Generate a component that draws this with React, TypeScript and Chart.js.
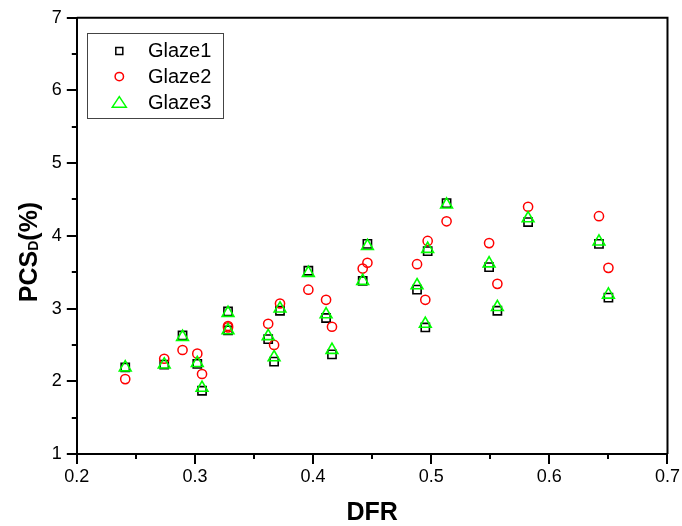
import React, { useEffect, useRef } from "react";
import { Chart, registerables } from "chart.js";

Chart.register(...registerables);

// ---- data ----
const dfr = [
  0.241, 0.274, 0.2895, 0.302, 0.306, 0.328, 0.328, 0.362, 0.367, 0.372, 0.396, 0.411,
  0.416, 0.442, 0.446, 0.488, 0.495, 0.497, 0.513, 0.549, 0.556, 0.582, 0.642, 0.65,
];
const glaze1 = [
  2.19, 2.23, 2.63, 2.24, 1.87, 2.96, 2.7, 2.58, 2.27, 2.97, 3.52, 2.87,
  2.37, 3.38, 3.89, 3.26, 2.74, 3.79, 4.45, 3.57, 2.97, 4.19, 3.89, 3.15,
];
const glaze2 = [
  2.03, 2.31, 2.43, 2.38, 2.1, 2.76, 2.74, 2.79, 2.5, 3.07, 3.26, 3.12,
  2.75, 3.55, 3.63, 3.61, 3.12, 3.93, 4.2, 3.9, 3.34, 4.4, 4.27, 3.56,
];
const glaze3 = [
  2.19, 2.23, 2.61, 2.25, 1.91, 2.94, 2.7, 2.62, 2.33, 3.0, 3.49, 2.92,
  2.43, 3.38, 3.86, 3.32, 2.79, 3.82, 4.43, 3.62, 3.02, 4.24, 3.92, 3.19,
];
const seriesNames = ["Glaze1", "Glaze2", "Glaze3"];
const xMinorTicks = [0.25, 0.35, 0.45, 0.55, 0.65];
const yMinorTicks = [1.5, 2.5, 3.5, 4.5, 5.5, 6.5];
const xTitle = "DFR";
const yTitleMain = "PCS";
const yTitleSub = "D";
const yTitleTail = "(%)";

const FONT = "'Liberation Sans', Arial, Helvetica, sans-serif";

const toPoints = (ys: number[]) => ys.map((v, i) => ({ x: dfr[i], y: v }));

const framePlugin = {
  id: "framePlugin",
  afterDraw(chart: any) {
    const { ctx, chartArea: a, scales } = chart;
    const xs = scales.x;
    const ys = scales.y;
    ctx.save();
    ctx.strokeStyle = "#000";
    ctx.lineWidth = 2;
    // top and right spines
    ctx.beginPath();
    ctx.moveTo(a.left, a.top);
    ctx.lineTo(a.right, a.top);
    ctx.lineTo(a.right, a.bottom);
    ctx.stroke();
    // minor ticks
    ctx.beginPath();
    for (const v of xMinorTicks) {
      const px = Math.round(xs.getPixelForValue(v));
      ctx.moveTo(px, a.bottom);
      ctx.lineTo(px, a.bottom + 5);
    }
    for (const v of yMinorTicks) {
      const py = Math.round(ys.getPixelForValue(v));
      ctx.moveTo(a.left, py);
      ctx.lineTo(a.left - 5, py);
    }
    ctx.stroke();

    // x title
    ctx.fillStyle = "#000";
    ctx.font = `bold 25px ${FONT}`;
    ctx.textAlign = "center";
    ctx.textBaseline = "alphabetic";
    ctx.fillText(xTitle, (a.left + a.right) / 2, 520);

    // y title with subscript
    const mainFont = `bold 25px ${FONT}`;
    const subFont = `bold 14px ${FONT}`;
    ctx.font = mainFont;
    const w1 = ctx.measureText(yTitleMain).width;
    const w3 = ctx.measureText(yTitleTail).width;
    ctx.font = subFont;
    const w2 = ctx.measureText(yTitleSub).width;
    const total = w1 + w2 + w3;
    ctx.save();
    ctx.translate(36.7, 252 + total / 2);
    ctx.rotate(-Math.PI / 2);
    ctx.textAlign = "left";
    ctx.font = mainFont;
    ctx.fillText(yTitleMain, 0, 0);
    ctx.font = subFont;
    ctx.fillText(yTitleSub, w1, 1);
    ctx.font = mainFont;
    ctx.fillText(yTitleTail, w1 + w2, 0);
    ctx.restore();

    // legend
    ctx.lineWidth = 1;
    ctx.strokeStyle = "#444";
    ctx.strokeRect(87.5, 33.5, 136, 85);
    ctx.font = `20px ${FONT}`;
    ctx.textAlign = "left";
    ctx.fillStyle = "#000";
    const ds = chart.data.datasets;
    for (let i = 0; i < seriesNames.length; i++) {
      const cy = 51 + i * 25.6;
      const d = ds[i];
      ctx.strokeStyle = d.borderColor;
      ctx.lineWidth = 1.5;
      ctx.beginPath();
      if (d.pointStyle === "rect") {
        ctx.rect(119.3 - 3.5, cy - 3.5, 7, 7);
      } else if (d.pointStyle === "circle") {
        ctx.arc(119.3, cy, 4.2, 0, Math.PI * 2);
      } else {
        ctx.moveTo(119.3, cy - 5.5);
        ctx.lineTo(126.3, cy + 5);
        ctx.lineTo(112.3, cy + 5);
        ctx.closePath();
      }
      ctx.stroke();
      ctx.fillText(d.label, 148, 57.3 + i * 25.8);
    }
    ctx.restore();
  },
};

export default function App() {
  const ref = useRef<HTMLCanvasElement | null>(null);
  useEffect(() => {
    if (!ref.current) return;
    const chart = new Chart(ref.current, {
      type: "scatter",
      data: {
        datasets: [
          {
            label: seriesNames[0],
            data: toPoints(glaze1),
            pointStyle: "rect",
            pointRadius: 5.8,
            borderColor: "#000000",
            backgroundColor: "transparent",
            pointBorderWidth: 1.6,
            order: 3,
          },
          {
            label: seriesNames[1],
            data: toPoints(glaze2),
            pointStyle: "circle",
            pointRadius: 4.6,
            borderColor: "#ff0000",
            backgroundColor: "transparent",
            pointBorderWidth: 1.5,
            order: 2,
          },
          {
            label: seriesNames[2],
            data: toPoints(glaze3),
            pointStyle: "triangle",
            pointRadius: 6.8,
            borderColor: "#00ff00",
            backgroundColor: "transparent",
            pointBorderWidth: 1.6,
            order: 1,
          },
        ] as any,
      },
      options: {
        animation: false,
        responsive: false,
        maintainAspectRatio: false,
        layout: { padding: { left: 0, top: 17.7, right: 13.7, bottom: 0 } },
        plugins: {
          legend: { display: false },
          tooltip: { enabled: false },
        },
        scales: {
          x: {
            type: "linear",
            min: 0.2,
            max: 0.7,
            afterFit: (s: any) => {
              s.height = 72;
            },
            ticks: {
              stepSize: 0.1,
              color: "#000",
              padding: 2,
              font: { family: FONT, size: 18 },
              callback: (v: any) => Number(v).toFixed(1),
            },
            grid: {
              drawOnChartArea: false,
              drawTicks: true,
              tickLength: 10,
              color: "#000",
              lineWidth: 2,
            },
            border: { display: true, color: "#000", width: 2 },
          },
          y: {
            type: "linear",
            min: 1,
            max: 7,
            afterFit: (s: any) => {
              s.width = 76.8;
            },
            ticks: {
              stepSize: 1,
              color: "#000",
              padding: 5,
              font: { family: FONT, size: 18 },
            },
            grid: {
              drawOnChartArea: false,
              drawTicks: true,
              tickLength: 10,
              color: "#000",
              lineWidth: 2,
            },
            border: { display: true, color: "#000", width: 2 },
          },
        },
      } as any,
      plugins: [framePlugin],
    });
    return () => chart.destroy();
  }, []);
  return (
    <div style={{ position: "absolute", left: 0, top: 0, width: 682, height: 526, background: "#fff" }}>
      <canvas ref={ref} width={682} height={526} style={{ display: "block" }} />
    </div>
  );
}
